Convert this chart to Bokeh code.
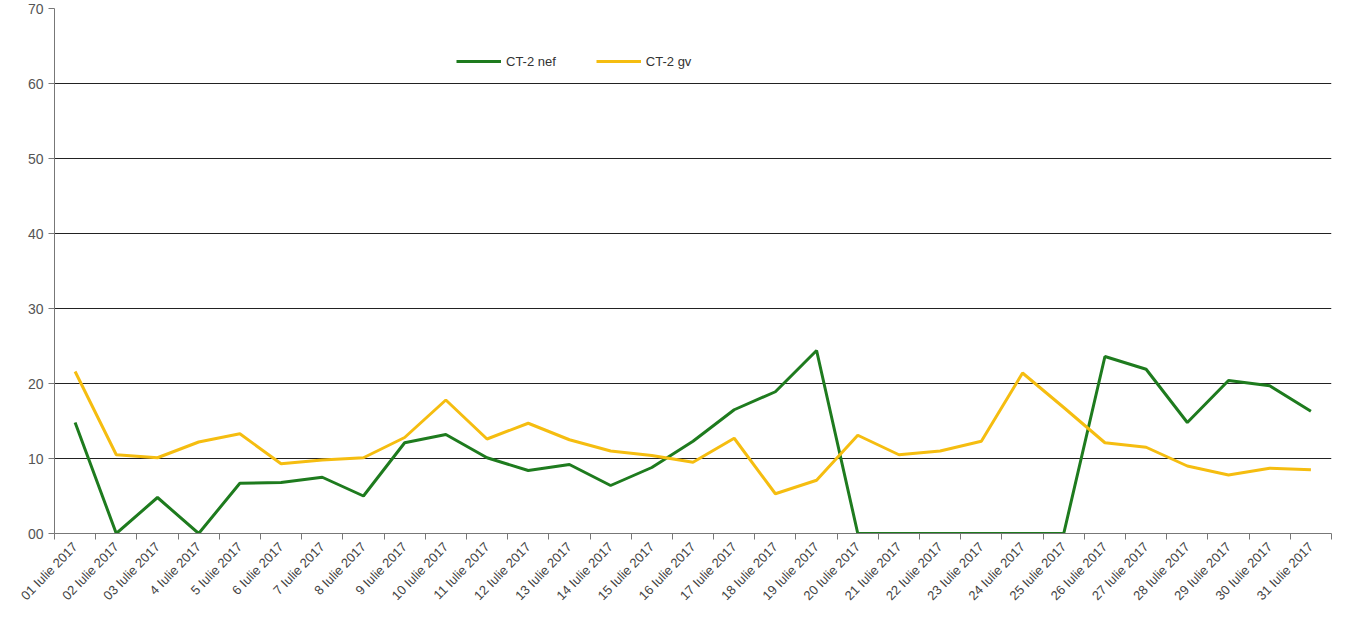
from bokeh.plotting import figure
from bokeh.models import FixedTicker, Legend, LegendItem, Range1d
from bokeh.embed import file_html
from bokeh.resources import INLINE

days = ["01 Iulie 2017", "02 Iulie 2017", "03 Iulie 2017"] + ["%d Iulie 2017" % d for d in range(4, 32)]
nef = [14.8, 0, 4.8, 0, 6.7, 6.8, 7.5, 5.0, 12.1, 13.2, 10.1, 8.4, 9.2, 6.4, 8.8, 12.3,
       16.5, 18.9, 24.4, 0, 0, 0, 0, 0, 0, 23.6, 21.9, 14.8, 20.4, 19.7, 16.3]
gv = [21.6, 10.5, 10.1, 12.2, 13.3, 9.3, 9.8, 10.1, 12.8, 17.8, 12.6, 14.7, 12.5, 11.0, 10.4, 9.5,
      12.7, 5.3, 7.1, 13.1, 10.5, 11.0, 12.3, 21.4, 16.8, 12.1, 11.5, 9.0, 7.8, 8.7, 8.5]
y_ticks = [0, 10, 20, 30, 40, 50, 60, 70]
y_labels = ["00", "10", "20", "30", "40", "50", "60", "70"]

xs = [i + 0.5 for i in range(len(days))]
FONT = "Liberation Sans"

p = figure(width=1333, height=611, output_backend="svg", toolbar_location=None,
           x_range=Range1d(0, len(days)), y_range=Range1d(0, 70),
           min_border_left=54, min_border_right=2, min_border_top=8, min_border_bottom=70)
p.outline_line_color = None
p.background_fill_color = "white"

g1 = p.line(xs, nef, line_color="#1e7b1e", line_width=3)
g2 = p.line(xs, gv, line_color="#f5bd10", line_width=3)

p.xaxis.ticker = FixedTicker(ticks=xs, minor_ticks=list(range(len(days) + 1)))
p.xaxis.major_label_overrides = {x: d for x, d in zip(xs, days)}
p.xaxis.major_label_orientation = 0.8
p.xaxis.major_tick_line_color = None
p.xaxis.minor_tick_in = 0
p.xaxis.minor_tick_out = 6
p.xaxis.minor_tick_line_color = "#777777"
p.xaxis.axis_line_color = "#777777"
p.xaxis.major_label_text_font = FONT
p.xaxis.major_label_text_font_size = "13px"
p.xaxis.major_label_text_color = "#444444"

p.yaxis.ticker = FixedTicker(ticks=y_ticks)
p.yaxis.major_label_overrides = {t: l for t, l in zip(y_ticks, y_labels)}
p.yaxis.minor_tick_line_color = None
p.yaxis.major_tick_in = 0
p.yaxis.major_tick_out = 6
p.yaxis.major_tick_line_color = "#777777"
p.yaxis.axis_line_color = "#777777"
p.yaxis.major_label_text_font = FONT
p.yaxis.major_label_text_font_size = "14px"
p.yaxis.major_label_text_color = "#555555"

p.xgrid.grid_line_color = None
p.ygrid.grid_line_color = "#222222"
p.ygrid.grid_line_width = 1

legend = Legend(items=[LegendItem(label="CT-2 nef", renderers=[g1]),
                       LegendItem(label="CT-2 gv", renderers=[g2])],
                orientation="horizontal", location=(402, 462))
legend.border_line_color = None
legend.background_fill_alpha = 0
legend.label_text_font = FONT
legend.label_text_font_size = "13px"
legend.label_text_color = "#333333"
legend.glyph_width = 45
legend.spacing = 40
p.add_layout(legend, "center")

open("out.html", "w").write(file_html(p, INLINE))
